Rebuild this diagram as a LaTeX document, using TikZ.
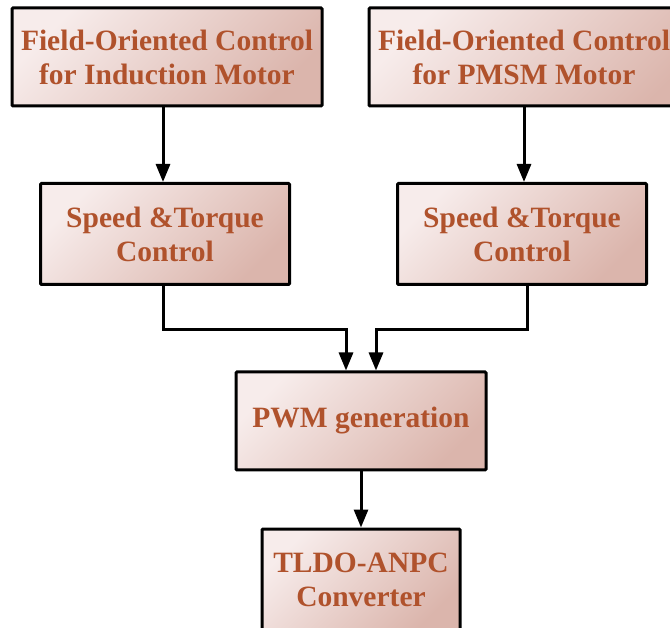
\documentclass[tikz,border=0pt]{standalone}
\usepackage{fontspec}
\setmainfont{Liberation Serif}
\usepackage{xcolor}
\usetikzlibrary{arrows.meta}

\definecolor{boxlight}{HTML}{F7ECEB}
\definecolor{boxdark}{HTML}{DBB5AC}
\definecolor{txtbrown}{HTML}{B0522C}

\begin{document}
\begin{tikzpicture}[
  x=1pt,y=-1pt,
  stage/.style={draw,line width=3pt,rounded corners=1pt,inner sep=0pt,align=center,
    top color=boxlight,bottom color=boxdark,shading angle=45,
    text=txtbrown,font=\bfseries\fontsize{29.5}{34}\selectfont},
  arr/.style={-{Triangle[length=18pt,width=14pt]},line width=3pt}
]
  \useasboundingbox (0,0) rectangle (670,628);
  \clip (0,0) rectangle (670,628);

  % Stages
  \node[stage,minimum width=310pt,minimum height=98pt] (focim) at (167,57) {Field-Oriented Control\\for Induction Motor};
  \node[stage,minimum width=340pt,minimum height=98pt] (focpm) at (539,57) {\hspace*{-30pt}Field-Oriented Control\\\hspace*{-30pt}for PMSM Motor};
  \node[stage,minimum width=249pt,minimum height=101pt] (stcim) at (165,234) {Speed \&Torque\\Control};
  \node[stage,minimum width=249pt,minimum height=101pt] (stcpm) at (522,234) {Speed \&Torque\\Control};
  \node[stage,minimum width=250pt,minimum height=98pt] (pwm) at (361,421) {PWM generation};
  \node[stage,minimum width=198pt,minimum height=102pt] (conv) at (361,580) {TLDO-ANPC\\Converter};

  % Arrows
  \draw[arr] (focim.south -| 163,0) -- (stcim.north -| 163,0);
  \draw[arr] (focpm.south -| 524,0) -- (stcpm.north -| 524,0);
  \draw[arr] (stcim.south -| 163,0) -- ++(0,44) -| ([xshift=-15pt]pwm.north);
  \draw[arr] (stcpm.south -| 527,0) -- ++(0,44) -| ([xshift=15pt]pwm.north);
  \draw[arr] (pwm.south) -- (conv.north);
\end{tikzpicture}
\end{document}
